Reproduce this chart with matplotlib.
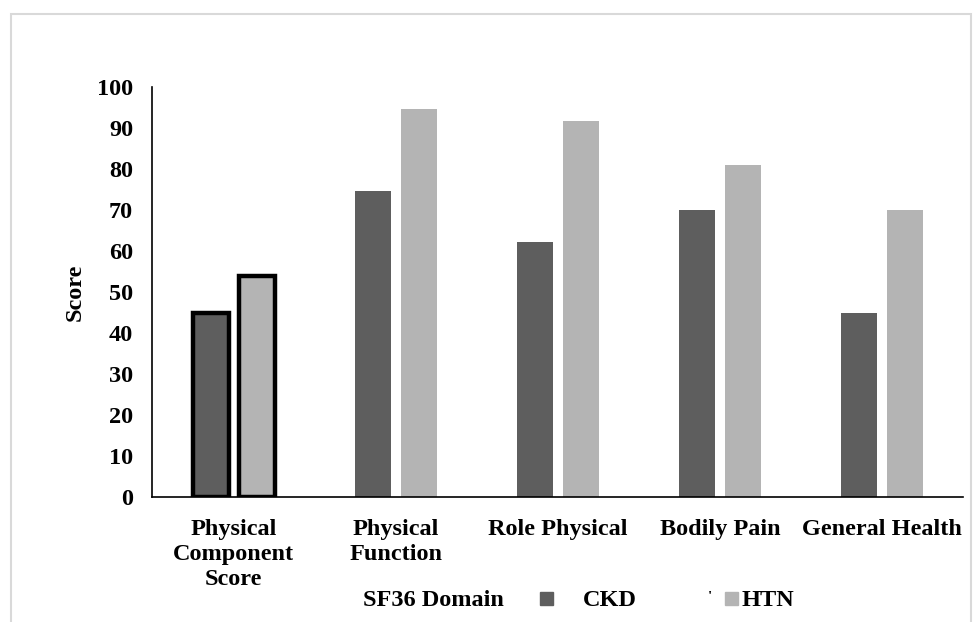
import matplotlib
matplotlib.use('Agg')
import matplotlib.pyplot as plt
import numpy as np
from matplotlib.patches import Rectangle

# data
domains = ['Physical\nComponent\nScore', 'Physical\nFunction', 'Role Physical',
           'Bodily Pain', 'General Health']
ckd = [45, 74.7, 62.2, 70, 44.8]
htn = [53.8, 94.6, 91.6, 81, 70]
series_names = ['CKD', 'HTN']

dark = '#5e5e5e'
light = '#b4b4b4'

plt.rcParams['font.family'] = ['Liberation Serif', 'DejaVu Serif']
plt.rcParams['font.weight'] = 'bold'
fs = 17.5

fig = plt.figure(figsize=(9.79, 6.22), dpi=100)
ax = fig.add_axes([152.5/979, 1-497/622, (963-152.5)/979, (497-87)/622])

x = np.arange(len(domains))
w = 0.222
off = 0.142
b1 = ax.bar(x - off, ckd, w, color=dark, zorder=2)
b2 = ax.bar(x + off, htn, w, color=light, zorder=2)
# the summary score bars have a heavy black outline
for b in (b1[0], b2[0]):
    b.set_edgecolor('black')
    b.set_linewidth(3.2)

ax.set_xlim(-0.5, len(domains) - 0.5)
ax.set_ylim(0, 100)
ax.set_yticks(np.arange(0, 101, 10))
ax.set_xticks(x)
ax.set_xticklabels(domains, fontsize=fs, fontweight='bold', linespacing=1.25)
ax.tick_params(axis='y', length=0, pad=14, labelsize=fs)
ax.tick_params(axis='x', length=0, pad=16)
for lab in ax.get_yticklabels():
    lab.set_fontweight('bold')
ax.set_ylabel('Score', fontsize=fs, fontweight='bold', labelpad=8)

for s in ['top', 'right']:
    ax.spines[s].set_visible(False)
for s in ['left', 'bottom']:
    ax.spines[s].set_linewidth(1.2)

# outer frame of the chart area
fig.add_artist(Rectangle((11/979, -0.1), (971-11)/979, 1.1 - 14/622,
                         transform=fig.transFigure, fill=False,
                         edgecolor='#d9d9d9', linewidth=1.5))

# legend row along the bottom
ty = 1 - 600/622
fig.text(363/979, ty, 'SF36 Domain', fontsize=fs, fontweight='bold', va='center')
sq = 13
for xs, col, xt, name in [(540, dark, 583, series_names[0]),
                          (725, light, 742, series_names[1])]:
    fig.add_artist(Rectangle((xs/979, 1 - 605/622), sq/979, sq/622,
                             transform=fig.transFigure, color=col))
    fig.text(xt/979, ty, name, fontsize=fs, fontweight='bold', va='center')
fig.text(708/979, 1 - 598/622, "'", fontsize=11, va='center')

fig.savefig('out.png', dpi=100)
